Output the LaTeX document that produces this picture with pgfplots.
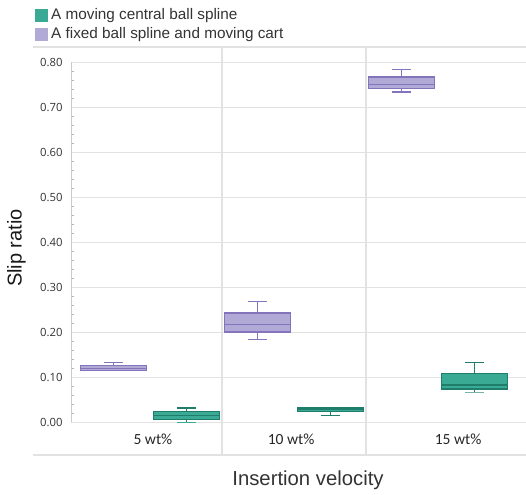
\documentclass[border=0pt]{standalone}
\usepackage{fontspec}
\setmainfont{Liberation Sans}
\newfontfamily\carlito{Carlito}
\newfontfamily\tickfont{Open Sans}
\usepackage{pgfplots}
\pgfplotsset{compat=1.18}
\definecolor{tealfill}{HTML}{3BAA95}
\definecolor{tealedge}{HTML}{1F7D6B}
\definecolor{purpfill}{HTML}{B1AAD6}
\definecolor{purpedge}{HTML}{8374BC}
\definecolor{gridc}{HTML}{E2E2E2}
\definecolor{txt}{HTML}{333333}
\pgfplotsset{
  pl/.style={draw=purpedge, line width=1.3pt, mark=none},
  pb/.style={draw=purpedge, fill=purpfill, line width=1.4pt, mark=none},
  tl/.style={draw=tealedge, line width=1.3pt, mark=none},
  tb/.style={draw=tealedge, fill=tealfill, line width=1.4pt, mark=none},
}
\begin{document}
\begin{tikzpicture}
\path[use as bounding box] (0pt,0pt) rectangle (526pt,494pt);
\begin{axis}[
  at={(71pt,39pt)}, anchor=south west,
  scale only axis, width=455pt, height=408pt,
  xmin=0.451, xmax=3.611,
  ymin=-0.0727, ymax=0.834,
  axis line style={draw=none},
  ytick={0,0.1,0.2,0.3,0.4,0.5,0.6,0.7,0.8},
  minor y tick num=4,
  ymajorgrids,
  grid style={gridc, line width=1.1pt},
  major tick length=0pt,
  minor tick length=3pt,
  tick align=inside,
  ytick pos=left,
  minor tick style={gridc!80!black, line width=0.6pt},
  yticklabel style={font=\tickfont\fontsize{11.3}{11.3}\selectfont, text=txt, xshift=-5pt,
    /pgf/number format/fixed, /pgf/number format/fixed zerofill, /pgf/number format/precision=2,
    /pgf/number format/assume math mode=true},
  xtick={1.02,1.98,3.14},
  xticklabels={5 wt\%,10 wt\%,15 wt\%},
  xticklabel style={font=\carlito\fontsize{15.5}{15.5}\selectfont, text=black!85, anchor=center, yshift=16pt},
  xtick pos=bottom,
  extra x ticks={1.5,2.5},
  extra x tick labels={},
  extra x tick style={grid=major, major grid style={gridc, line width=1.1pt}},
  clip=false,
]
\draw[gridc!90!black, line width=0.8pt] (axis cs:0.451,0) -- (axis cs:0.451,0.8);
% ---- 5 wt% : purple (lw=lq=0.1156, med 0.120, uq 0.126, uw 0.133)
\addplot[pl] coordinates {(0.747,0.126) (0.747,0.133)};
\addplot[pl] coordinates {(0.682,0.133) (0.812,0.133)};
\addplot[pb] coordinates {(0.517,0.1156) (0.977,0.1156) (0.977,0.126) (0.517,0.126)} -- cycle;
\addplot[pl] coordinates {(0.517,0.120) (0.977,0.120)};
% ---- 5 wt% : teal (lw 0, lq 0.0067, med 0.0156, uq 0.024, uw 0.032)
\addplot[tl] coordinates {(1.253,0.024) (1.253,0.032)};
\addplot[tl] coordinates {(1.188,0.032) (1.318,0.032)};
\addplot[tl] coordinates {(1.253,0.0) (1.253,0.0067)};
\addplot[tl, draw=tealfill] coordinates {(1.188,0.0) (1.318,0.0)};
\addplot[tb] coordinates {(1.023,0.0067) (1.483,0.0067) (1.483,0.024) (1.023,0.024)} -- cycle;
\addplot[tl] coordinates {(1.023,0.0156) (1.483,0.0156)};
% ---- 10 wt% : purple (lw .184, lq .201, med .218, uq .243, uw .268)
\addplot[pl] coordinates {(1.747,0.243) (1.747,0.268)};
\addplot[pl] coordinates {(1.682,0.268) (1.812,0.268)};
\addplot[pl] coordinates {(1.747,0.184) (1.747,0.201)};
\addplot[pl] coordinates {(1.682,0.184) (1.812,0.184)};
\addplot[pb] coordinates {(1.517,0.201) (1.977,0.201) (1.977,0.243) (1.517,0.243)} -- cycle;
\addplot[pl] coordinates {(1.517,0.218) (1.977,0.218)};
% ---- 10 wt% : teal (lw .0156, lq .0236, med .028, uq=uw .032)
\addplot[tl] coordinates {(2.253,0.0156) (2.253,0.0236)};
\addplot[tl] coordinates {(2.188,0.0156) (2.318,0.0156)};
\addplot[tb] coordinates {(2.023,0.0236) (2.483,0.0236) (2.483,0.032) (2.023,0.032)} -- cycle;
\addplot[tl] coordinates {(2.023,0.028) (2.483,0.028)};
% ---- 15 wt% : purple (.734 .742 .751 .767 .784)
\addplot[pl] coordinates {(2.747,0.767) (2.747,0.784)};
\addplot[pl] coordinates {(2.682,0.784) (2.812,0.784)};
\addplot[pl] coordinates {(2.747,0.734) (2.747,0.742)};
\addplot[pl] coordinates {(2.682,0.734) (2.812,0.734)};
\addplot[pb] coordinates {(2.517,0.742) (2.977,0.742) (2.977,0.767) (2.517,0.767)} -- cycle;
\addplot[pl] coordinates {(2.517,0.751) (2.977,0.751)};
% ---- 15 wt% : teal (.066 .074 .083 .108 .133)
\addplot[tl] coordinates {(3.253,0.108) (3.253,0.133)};
\addplot[tl] coordinates {(3.188,0.133) (3.318,0.133)};
\addplot[tl] coordinates {(3.253,0.066) (3.253,0.074)};
\addplot[tl, draw=tealedge!60] coordinates {(3.188,0.066) (3.318,0.066)};
\addplot[tb] coordinates {(3.023,0.074) (3.483,0.074) (3.483,0.108) (3.023,0.108)} -- cycle;
\addplot[tl] coordinates {(3.023,0.083) (3.483,0.083)};
\end{axis}
% frame lines
\draw[gridc, line width=1.6pt] (33pt,447pt) -- (526pt,447pt);
\draw[gridc, line width=1.8pt] (33pt,39pt) -- (526pt,39pt);
% legend
\fill[tealfill] (35pt,472.3pt) rectangle (47.7pt,484.7pt);
\node[anchor=west, inner sep=0pt, text=txt, font=\fontsize{15.3}{15.3}\selectfont] at (51pt,478.5pt) {A moving central ball spline};
\fill[purpfill] (35pt,453.3pt) rectangle (47.7pt,465.7pt);
\node[anchor=west, inner sep=0pt, text=txt, font=\fontsize{15.3}{15.3}\selectfont] at (51pt,459pt) {A fixed ball spline and moving cart};
% axis titles
\node[text=txt, font=\fontsize{20.3}{20.3}\selectfont] at (308pt,14pt) {Insertion velocity};
\node[text=black!90, font=\fontsize{20}{20}\selectfont, rotate=90] at (16.5pt,246pt) {Slip ratio};
\end{tikzpicture}
\end{document}
